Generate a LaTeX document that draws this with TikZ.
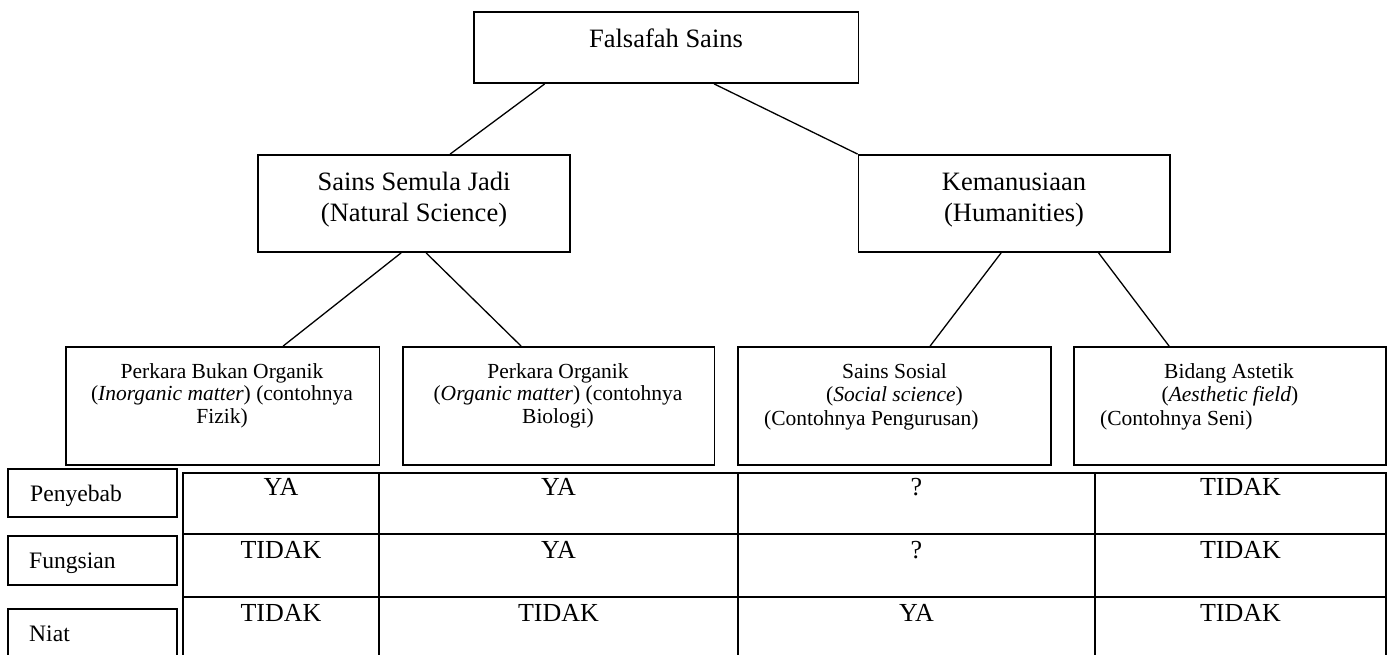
\documentclass[tikz,border=0pt]{standalone}
\usepackage{fontspec}
\setmainfont{Liberation Serif}
\usetikzlibrary{calc,fit}
\begin{document}
\begin{tikzpicture}[x=1pt,y=-1pt,
  box/.style={draw, line width=1.8pt, inner sep=0pt},
  link/.style={line width=1.3pt},
  grid/.style={line width=2.4pt},
  big/.style={inner sep=0pt, anchor=base, font=\fontsize{26.5}{31}\selectfont},
  small/.style={inner sep=0pt, anchor=base, font=\fontsize{21.5}{24}\selectfont},
  smallleft/.style={small, anchor=base west},
  cell/.style={inner sep=0pt, anchor=base, font=\fontsize{26}{30}\selectfont},
  rowhead/.style={inner sep=0pt, anchor=base west, font=\fontsize{23.6}{28}\selectfont},
]
\clip (0,0) rectangle (1390,655);

% --- hierarchy boxes ---
\node[box, fit={(474,12) (858.5,83)}] (fs) {};
\node[box, fit={(258,155) (570,252)}] (ssj) {};
\node[box, fit={(858.5,155) (1170,252)}] (kem) {};
\node[box, fit={(66,347) (379.5,465)}] (b1) {};
\node[box, fit={(403,347) (714.5,465)}] (b2) {};
\node[box, fit={(738,347) (1051,465)}] (b3) {};
\node[box, fit={(1074,347) (1386,465)}] (b4) {};

% --- connectors ---
\draw[link] ($(fs.south west)+(71.6,0)$) -- ($(ssj.north west)+(193,0)$);
\draw[link] ($(fs.south west)+(241,0)$) -- (kem.north west);
\draw[link] ($(ssj.south west)+(144,0)$) -- ($(b1.north west)+(218,0)$);
\draw[link] ($(ssj.south west)+(169,0)$) -- ($(b2.north west)+(119,0)$);
\draw[link] ($(kem.south west)+(143.5,0)$) -- ($(b3.north west)+(193,0)$);
\draw[link] ($(kem.south west)+(241,0)$) -- ($(b4.north west)+(96,0)$);

% --- box texts ---
\node[big] (t-fs) at (666,47.3) {Falsafah Sains};
\node[big] (t-ssj1) at (414,190.7) {Sains Semula Jadi};
\node[big] (t-ssj2) at (414,221.7) {(Natural Science)};
\node[big] (t-kem1) at (1014,190.7) {Kemanusiaan};
\node[big] (t-kem2) at (1014,221.7) {(Humanities)};

\node[small] (t-b1a) at (222,378) {Perkara Bukan Organik};
\node[small] (t-b1b) at (222,400.5) {(\textit{Inorganic matter}) (contohnya};
\node[small] (t-b1c) at (222,423) {Fizik)};
\node[small] (t-b2a) at (558,378) {Perkara Organik};
\node[small] (t-b2b) at (558,400.5) {(\textit{Organic matter}) (contohnya};
\node[small] (t-b2c) at (558,423) {Biologi)};
\node[small] (t-b3a) at (894.5,378) {Sains Sosial};
\node[small] (t-b3b) at (894.5,401) {(\textit{Social science})};
\node[smallleft] (t-b3c) at (764,425) {(Contohnya Pengurusan)};
\node[small] (t-b4a) at (1229,378) {Bidang Astetik};
\node[small] (t-b4b) at (1230,401) {(\textit{Aesthetic field})};
\node[smallleft] (t-b4c) at (1100,425) {(Contohnya Seni)};

% --- row headers ---
\node[box, fit={(8,469) (177,517)}] (h1) {};
\node[box, fit={(8,536) (177,585)}] (h2) {};
\node[box, fit={(8,609) (177,672)}] (h3) {};
\node[rowhead] (t-h1) at (30,501.7) {Penyebab};
\node[rowhead] (t-h2) at (29,568.3) {Fungsian};
\node[rowhead] (t-h3) at (29,641.7) {Niat};

% --- table grid ---
\draw[grid] (183,473) rectangle (1386,672);
\draw[grid] (183,534) -- (1386,534);
\draw[grid] (183,597) -- (1386,597);
\foreach \cx in {379,738,1095} \draw[grid] (\cx,473) -- (\cx,672);

% --- table entries ---
\node[cell] (c11) at (281,495.7) {YA};
\node[cell] (c12) at (558.5,495.7) {YA};
\node[cell] (c13) at (916.5,495.7) {?};
\node[cell] (c14) at (1240.5,495.7) {TIDAK};
\node[cell] (c21) at (281,558.3) {TIDAK};
\node[cell] (c22) at (558.5,558.3) {YA};
\node[cell] (c23) at (916.5,558.3) {?};
\node[cell] (c24) at (1240.5,558.3) {TIDAK};
\node[cell] (c31) at (281,621.7) {TIDAK};
\node[cell] (c32) at (558.5,621.7) {TIDAK};
\node[cell] (c33) at (916.5,621.7) {YA};
\node[cell] (c34) at (1240.5,621.7) {TIDAK};
\end{tikzpicture}
\end{document}
